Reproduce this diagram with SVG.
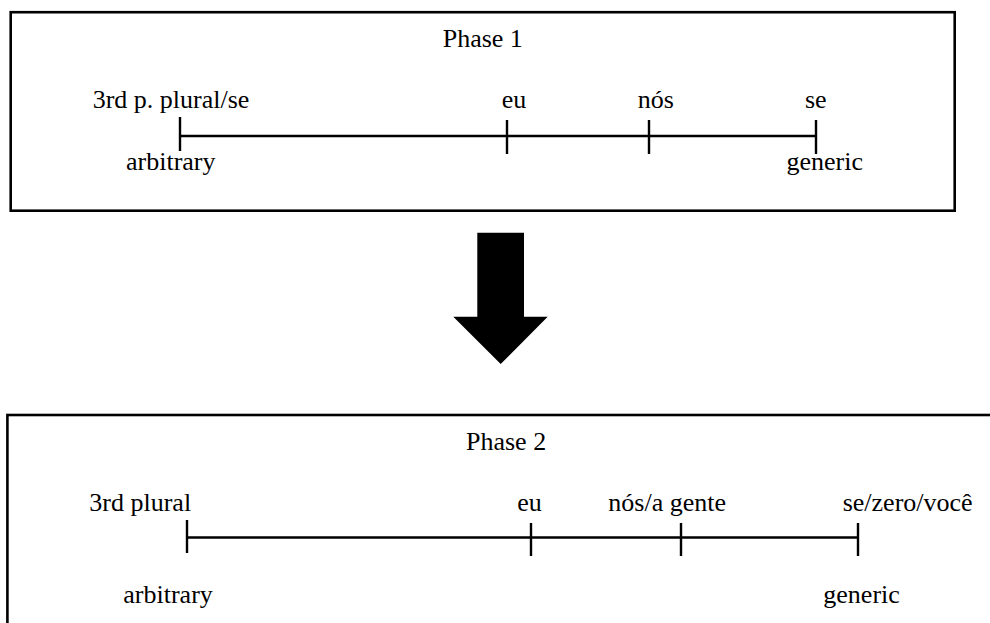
<svg xmlns="http://www.w3.org/2000/svg" width="990" height="623" viewBox="0 0 990 623">
<defs>
<style>
text{font-family:"Liberation Serif","Times New Roman",serif;font-size:26px;fill:#000}
.box{fill:#fff;stroke:#000;stroke-width:2.6}
.ln{stroke:#000;stroke-width:2.4;fill:none}
</style>
</defs>
<rect width="990" height="623" fill="#fff"/>
<g id="phase1">
<rect class="box" x="10.7" y="12.2" width="944" height="198.5"/>
<text x="442.7" y="46.7">Phase 1</text>
</g>
<g id="phase2">
<rect class="box" x="7.4" y="415" width="1000" height="300"/>
<text x="466" y="450">Phase 2</text>
</g>
<g id="connectors">
<path class="ln" d="M180,136 H816 M180,117 V151 M507,120 V154 M649,120 V154 M816,120 V154"/>
<path class="ln" d="M187,537.5 H858 M187,520 V553 M531,523 V556 M681,523 V556 M858,523 V556"/>
<polygon id="arrow" points="477.3,232.7 524,232.7 524,316.7 547.7,316.7 500.7,364 453.3,316.7 477.3,316.7" fill="#000"/>
</g>
<g id="p1-labels">
<text x="92.7" y="108">3rd p. plural/se</text>
<text x="501.7" y="108">eu</text>
<text x="637.7" y="108">nós</text>
<text x="805" y="108">se</text>
<text x="126" y="170">arbitrary</text>
<text x="786.5" y="170">generic</text>
</g>
<g id="p2-labels">
<text x="89.3" y="510.7">3rd plural</text>
<text x="517.3" y="510.7">eu</text>
<text x="608.3" y="510.7">nós/a gente</text>
<text x="842.7" y="510.7">se/zero/você</text>
<text x="123.3" y="603.3">arbitrary</text>
<text x="823.3" y="603.3">generic</text>
</g>
</svg>
